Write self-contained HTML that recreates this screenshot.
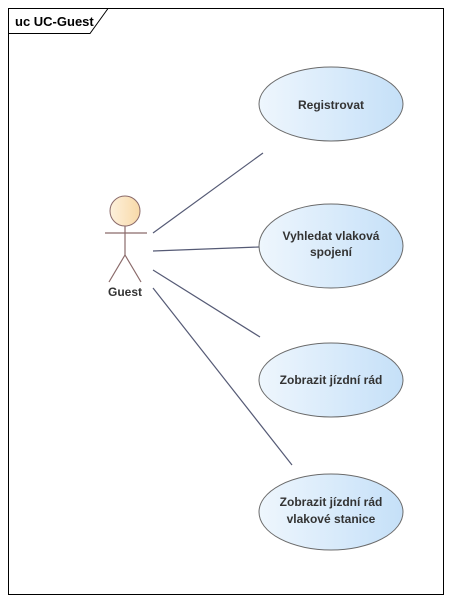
<!DOCTYPE html>
<html><head><style>body{margin:0;background:#fff}</style></head><body>
<svg width="452" height="605" xmlns="http://www.w3.org/2000/svg" font-family="Liberation Sans, sans-serif">
<defs><linearGradient id="g" x1="0" x2="1" y1="0" y2="0"><stop offset="0" stop-color="#eef6fd"/><stop offset="1" stop-color="#c5e0f8"/></linearGradient>
<linearGradient id="h" x1="0" x2="1"><stop offset="0" stop-color="#fdf1dc"/><stop offset="1" stop-color="#f8d9a8"/></linearGradient></defs>
<rect x="8.5" y="8.5" width="435" height="586" fill="#fff" stroke="#000"/>
<path d="M8.5 33.5 H90 L108 8.5" fill="none" stroke="#000"/>
<text x="15" y="26" font-size="13" font-weight="bold">uc UC-Guest</text>
<g stroke="#555a75" stroke-width="1.2">
<line x1="153" y1="233" x2="263" y2="153"/>
<line x1="153" y1="251" x2="259" y2="247"/>
<line x1="153" y1="270" x2="260" y2="337"/>
<line x1="153" y1="288" x2="292" y2="465"/>
</g>
<g fill="url(#g)" stroke="#6b6b6b">
<ellipse cx="331" cy="104" rx="72" ry="37"/>
<ellipse cx="331" cy="246" rx="72" ry="42"/>
<ellipse cx="331" cy="380" rx="72" ry="37"/>
<ellipse cx="331" cy="512" rx="72" ry="38"/>
</g>
<g font-size="12" font-weight="bold" fill="#333" text-anchor="middle">
<text x="331" y="109">Registrovat</text>
<text x="331" y="240">Vyhledat vlaková</text>
<text x="331" y="256">spojení</text>
<text x="331" y="384">Zobrazit jízdní rád</text>
<text x="331" y="506">Zobrazit jízdní rád</text>
<text x="331" y="523">vlakové stanice</text>
<text x="125" y="296">Guest</text>
</g>
<circle cx="125" cy="211" r="15" fill="url(#h)" stroke="#8a6a6a"/>
<g stroke="#8a6a6a" stroke-width="1.2" fill="none">
<line x1="105" y1="233" x2="147" y2="233"/>
<line x1="125" y1="226" x2="125" y2="255"/>
<path d="M109 282 L125 255 L141 282"/>
</g>
</svg>
</body></html>
